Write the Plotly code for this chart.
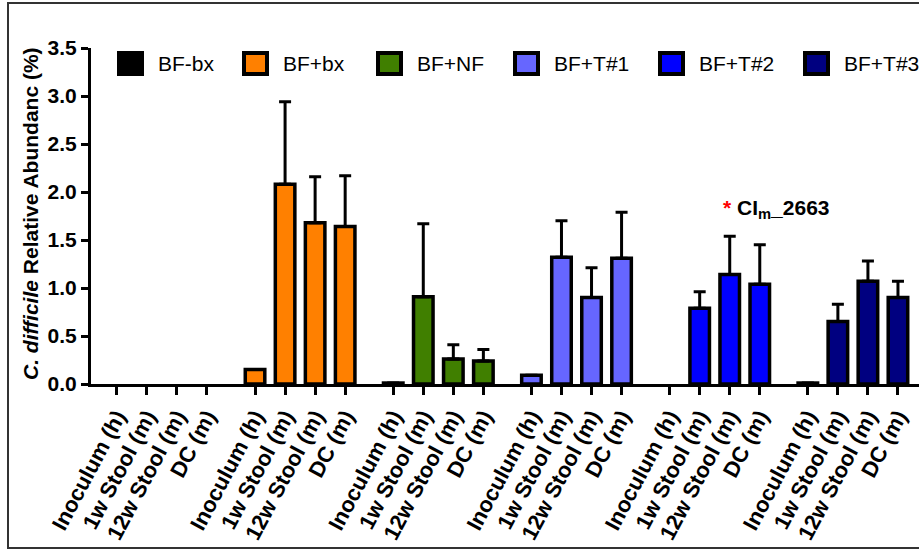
import plotly.graph_objects as go

# ---------------- data ----------------
series = ["BF-bx", "BF+bx", "BF+NF", "BF+T#1", "BF+T#2", "BF+T#3"]
timepoints = ["Inoculum (h)", "1w Stool (m)", "12w Stool (m)", "DC (m)"]

bf_bx = [0.0, 0.0, 0.0, 0.0]
bf_bx_err = [0.0, 0.0, 0.0, 0.0]
bf_plus_bx = [0.15, 2.08, 1.68, 1.64]
bf_plus_bx_err = [0.0, 0.86, 0.48, 0.53]
bf_nf = [0.01, 0.91, 0.26, 0.24]
bf_nf_err = [0.0, 0.76, 0.15, 0.12]
bf_t1 = [0.09, 1.32, 0.90, 1.31]
bf_t1_err = [0.0, 0.38, 0.31, 0.48]
bf_t2 = [0.0, 0.79, 1.14, 1.04]
bf_t2_err = [0.0, 0.17, 0.40, 0.41]
bf_t3 = [0.01, 0.65, 1.07, 0.90]
bf_t3_err = [0.0, 0.18, 0.21, 0.17]

values = [bf_bx, bf_plus_bx, bf_nf, bf_t1, bf_t2, bf_t3]
errors = [bf_bx_err, bf_plus_bx_err, bf_nf_err, bf_t1_err, bf_t2_err, bf_t3_err]

y_ticks = [0.0, 0.5, 1.0, 1.5, 2.0, 2.5, 3.0, 3.5]
annotation_text = "CI<sub>m</sub>_2663"

# ---------------- style ----------------
colors = ["#000000", "#FF8000", "#407F00", "#6666FF", "#0000FF", "#000080"]
FONT = "Liberation Sans, Arial, sans-serif"
GROUP_STEP = 4.6

W, H = 919, 550
ML, MR, MT, MB = 91, 0, 48, 166
PW, PH = W - ML - MR, H - MT - MB


def px(xp):
    return (xp - ML) / PW


def py(yp):
    return (H - MB - yp) / PH


fig = go.Figure()
tickvals, ticktext = [], []
for g, (name, vals, errs, col) in enumerate(zip(series, values, errors, colors)):
    xs = [g * GROUP_STEP + i for i in range(len(timepoints))]
    tickvals += xs
    ticktext += timepoints
    # zero-height bars are not drawn (nothing visible in the reference)
    y_drawn = [v if v > 0 else None for v in vals]
    err_plus = [e if e > 0 else None for e in errs]
    fig.add_trace(go.Bar(
        x=xs, y=y_drawn, name=name, width=0.65,
        marker=dict(color=col, line=dict(color="black", width=3.5)),
        error_y=dict(type="data", array=err_plus, arrayminus=[0] * len(errs),
                     symmetric=False, color="black", thickness=3, width=6),
        showlegend=False,
    ))

fig.update_layout(
    width=W, height=H,
    margin=dict(l=ML, r=MR, t=MT, b=MB),
    paper_bgcolor="white", plot_bgcolor="white",
    barmode="overlay",
    font=dict(family=FONT, color="black"),
)
fig.update_xaxes(
    range=[-0.86, 26.7], tickvals=tickvals, ticktext=ticktext,
    tickangle=-62, tickfont=dict(size=22, weight="bold", family=FONT),
    showline=True, linecolor="black", linewidth=3,
    ticks="outside", ticklen=8, tickwidth=3, tickcolor="black",
    showgrid=False, zeroline=False,
)
fig.update_yaxes(
    range=[0, 3.5], tickvals=y_ticks, tickformat=".1f",
    tickfont=dict(size=21, weight="bold", family=FONT),
    showline=True, linecolor="black", linewidth=3,
    ticks="outside", ticklen=7, tickwidth=3, tickcolor="black",
    showgrid=False, zeroline=False,
)

shapes = []
annotations = []
# frame around figure
shapes.append(dict(type="rect", xref="paper", yref="paper",
                   x0=px(8), x1=px(930), y0=py(548), y1=py(3),
                   line=dict(color="#333333", width=2), fillcolor="rgba(0,0,0,0)"))

# legend (manual, large swatches)
legend_left = [117, 242, 376, 513, 658, 803]
for name, col, xl in zip(series, colors, legend_left):
    shapes.append(dict(type="rect", xref="paper", yref="paper",
                       x0=px(xl + 2), x1=px(xl + 25), y0=py(74), y1=py(53),
                       line=dict(color="black", width=4), fillcolor=col))
    annotations.append(dict(xref="paper", yref="paper", x=px(xl + 39), y=py(63.5),
                            xanchor="left", yanchor="middle", showarrow=False,
                            text=name, font=dict(size=21, family=FONT, color="black")))

# y-axis title
annotations.append(dict(xref="paper", yref="paper", x=px(30), y=py(214),
                        xanchor="center", yanchor="middle", showarrow=False, textangle=-90,
                        text="<i>C. difficile</i> Relative Abundanc (%)",
                        font=dict(size=21, family=FONT, weight="bold", color="black")))

# strain annotation
annotations.append(dict(xref="paper", yref="paper", x=px(721), y=py(209),
                        xanchor="left", yanchor="middle", showarrow=False,
                        text="<span style='color:red'>*</span> " + annotation_text,
                        font=dict(size=21, family=FONT, weight="bold", color="black")))

fig.update_layout(shapes=shapes, annotations=annotations)
fig.write_html("out.html",
               config={"displayModeBar": False},
               post_script="document.body.style.margin='0';document.body.style.overflow='hidden';")
